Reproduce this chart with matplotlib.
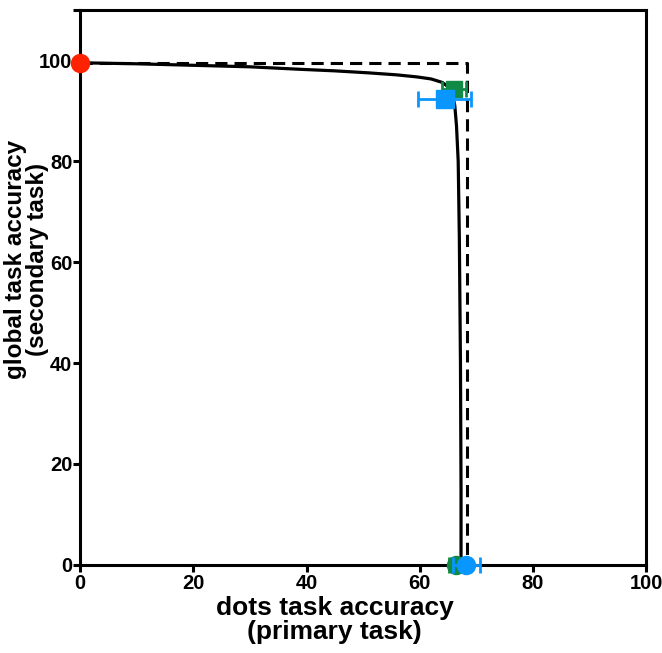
import matplotlib
matplotlib.use("Agg")
import matplotlib.pyplot as plt

plt.rcParams["font.family"] = ["Liberation Sans", "DejaVu Sans"]
plt.rcParams["font.weight"] = "bold"

# fitted operating characteristic (dots accuracy, global accuracy)
curve_x = [0, 10, 20, 30, 39, 45, 51, 56, 59.5, 62, 64, 65.2, 65.8, 66.2, 66.5,
           66.8, 67.0, 67.2, 67.3, 67.3]
curve_y = [99.5, 99.3, 99.0, 98.7, 98.2, 97.9, 97.5, 97.1, 96.7, 96.3, 95.6, 94.6,
           93.2, 91.0, 87.0, 80.0, 65.0, 40.0, 15.0, 0.0]

# independence bound: single-task performance on each task
bound_x = [0, 68.3, 68.3]
bound_y = [99.4, 99.4, 0]

# single-task global performance
single_global_x = [0]
single_global_y = [99.4]

# dual-task conditions (means with SEM)
dual_green_x = [66.1]
dual_green_y = [94.4]
dual_green_xerr = [2.1]
dual_blue_x = [64.4]
dual_blue_y = [92.3]
dual_blue_xerr = [4.7]
dual_blue_yerr = [1.5]

# single-task dots performance
single_green_x = [66.4]
single_green_y = [0]
single_green_xerr = [1.3]
single_blue_x = [68.2]
single_blue_y = [0]
single_blue_xerr = [2.4]

red = "#ff2200"
green = "#118a45"
blue = "#0a96ff"

fig = plt.figure(figsize=(6.62, 6.53), dpi=100)
ax = fig.add_axes([0.121, 0.135, 0.855, 0.85])

ax.plot(curve_x, curve_y, color="black", lw=2.3, zorder=2, clip_on=False)
ax.plot(bound_x, bound_y, color="black", lw=2.2, ls=(0, (4, 2.3)), zorder=2,
        clip_on=False)

ax.errorbar(dual_green_x, dual_green_y, xerr=dual_green_xerr, fmt="s", ms=11,
            color=green, ecolor=green, elinewidth=2, capsize=6, capthick=2,
            zorder=4, clip_on=False)
ax.errorbar(dual_blue_x, dual_blue_y, xerr=dual_blue_xerr, yerr=dual_blue_yerr,
            fmt="s", ms=12.5, color=blue, ecolor=blue, elinewidth=2, capsize=6,
            capthick=2, zorder=5, clip_on=False)
ax.errorbar(single_green_x, single_green_y, xerr=single_green_xerr, fmt="o",
            ms=13, color=green, ecolor=green, elinewidth=2, capsize=6,
            capthick=2, zorder=4, clip_on=False)
ax.errorbar(single_blue_x, single_blue_y, xerr=single_blue_xerr, fmt="o",
            ms=13, color=blue, ecolor=blue, elinewidth=2, capsize=6,
            capthick=2, zorder=5, clip_on=False)
ax.plot(single_global_x, single_global_y, "o", ms=13, color=red, zorder=6,
        clip_on=False)

ax.set_xlim(0, 100)
ax.set_ylim(0, 110)
ax.set_xticks([0, 20, 40, 60, 80, 100])
ax.set_yticks([0, 20, 40, 60, 80, 100])
ax.set_yticks([110], minor=True)

for side in ["left", "right", "top", "bottom"]:
    ax.spines[side].set_linewidth(2.2)
ax.tick_params(axis="both", which="both", direction="out", length=5, width=2.2,
               labelsize=14.5, pad=1.5)
ax.tick_params(axis="y", which="major", pad=0.5)
ax.tick_params(axis="y", which="minor", length=5)
for lbl in ax.get_xticklabels() + ax.get_yticklabels():
    lbl.set_fontweight("bold")

ax.set_xlabel("dots task accuracy\n(primary task)", fontsize=19,
              fontweight="bold", linespacing=1.0)
ax.set_ylabel("global task accuracy\n(secondary task)", fontsize=17.5,
              fontweight="bold", linespacing=0.95)
ax.xaxis.set_label_coords(0.45, -0.057)
ax.yaxis.label.set_va("center")
ax.yaxis.set_label_coords(-0.095, 0.55)

fig.savefig("out.png", dpi=100)
